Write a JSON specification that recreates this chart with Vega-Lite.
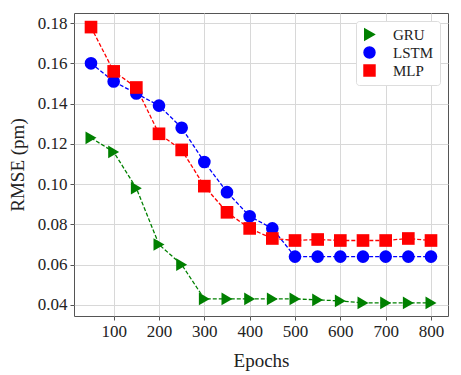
{
  "$schema": "https://vega.github.io/schema/vega-lite/v6.json",
  "width": 374,
  "height": 303,
  "autosize": {"type": "none"},
  "padding": {"left": 74, "top": 13, "right": 13, "bottom": 59},
  "background": "white",
  "config": {
    "font": "Liberation Serif",
    "view": {"stroke": "#555", "strokeWidth": 1},
    "axis": {
      "labelFont": "Liberation Serif",
      "titleFont": "Liberation Serif",
      "labelFontSize": 17,
      "titleFontSize": 19,
      "titleFontWeight": "normal",
      "labelColor": "#222",
      "titleColor": "#222",
      "gridColor": "#d8d8d8",
      "gridWidth": 1,
      "tickColor": "#555",
      "tickSize": 4,
      "domain": false
    },
    "legend": {
      "orient": "top-right",
      "offset": 8,
      "labelFont": "Liberation Serif",
      "labelFontSize": 15,
      "labelColor": "#222",
      "labelOffset": 16,
      "symbolSize": 120,
      "fillColor": "white",
      "strokeColor": "#ddd",
      "padding": 6,
      "rowPadding": 1,
      "cornerRadius": 3,
      "symbolOpacity": 1
    }
  },
  "data": {
    "values": [
      {"epoch": 50, "model": "GRU", "rmse": 0.123},
      {"epoch": 100, "model": "GRU", "rmse": 0.116},
      {"epoch": 150, "model": "GRU", "rmse": 0.098},
      {"epoch": 200, "model": "GRU", "rmse": 0.070},
      {"epoch": 250, "model": "GRU", "rmse": 0.060},
      {"epoch": 300, "model": "GRU", "rmse": 0.043},
      {"epoch": 350, "model": "GRU", "rmse": 0.043},
      {"epoch": 400, "model": "GRU", "rmse": 0.043},
      {"epoch": 450, "model": "GRU", "rmse": 0.043},
      {"epoch": 500, "model": "GRU", "rmse": 0.043},
      {"epoch": 550, "model": "GRU", "rmse": 0.0425},
      {"epoch": 600, "model": "GRU", "rmse": 0.042},
      {"epoch": 650, "model": "GRU", "rmse": 0.041},
      {"epoch": 700, "model": "GRU", "rmse": 0.041},
      {"epoch": 750, "model": "GRU", "rmse": 0.041},
      {"epoch": 800, "model": "GRU", "rmse": 0.041},
      {"epoch": 50, "model": "LSTM", "rmse": 0.160},
      {"epoch": 100, "model": "LSTM", "rmse": 0.151},
      {"epoch": 150, "model": "LSTM", "rmse": 0.145},
      {"epoch": 200, "model": "LSTM", "rmse": 0.139},
      {"epoch": 250, "model": "LSTM", "rmse": 0.128},
      {"epoch": 300, "model": "LSTM", "rmse": 0.111},
      {"epoch": 350, "model": "LSTM", "rmse": 0.096},
      {"epoch": 400, "model": "LSTM", "rmse": 0.084},
      {"epoch": 450, "model": "LSTM", "rmse": 0.078},
      {"epoch": 500, "model": "LSTM", "rmse": 0.064},
      {"epoch": 550, "model": "LSTM", "rmse": 0.064},
      {"epoch": 600, "model": "LSTM", "rmse": 0.064},
      {"epoch": 650, "model": "LSTM", "rmse": 0.064},
      {"epoch": 700, "model": "LSTM", "rmse": 0.064},
      {"epoch": 750, "model": "LSTM", "rmse": 0.064},
      {"epoch": 800, "model": "LSTM", "rmse": 0.064},
      {"epoch": 50, "model": "MLP", "rmse": 0.178},
      {"epoch": 100, "model": "MLP", "rmse": 0.156},
      {"epoch": 150, "model": "MLP", "rmse": 0.148},
      {"epoch": 200, "model": "MLP", "rmse": 0.125},
      {"epoch": 250, "model": "MLP", "rmse": 0.117},
      {"epoch": 300, "model": "MLP", "rmse": 0.099},
      {"epoch": 350, "model": "MLP", "rmse": 0.086},
      {"epoch": 400, "model": "MLP", "rmse": 0.078},
      {"epoch": 450, "model": "MLP", "rmse": 0.073},
      {"epoch": 500, "model": "MLP", "rmse": 0.072},
      {"epoch": 550, "model": "MLP", "rmse": 0.0725},
      {"epoch": 600, "model": "MLP", "rmse": 0.072},
      {"epoch": 650, "model": "MLP", "rmse": 0.072},
      {"epoch": 700, "model": "MLP", "rmse": 0.072},
      {"epoch": 750, "model": "MLP", "rmse": 0.073},
      {"epoch": 800, "model": "MLP", "rmse": 0.072}
    ]
  },
  "encoding": {
    "x": {
      "field": "epoch", "type": "quantitative",
      "scale": {"domain": [12.5, 837.5], "nice": false, "zero": false},
      "axis": {"values": [100, 200, 300, 400, 500, 600, 700, 800], "title": "Epochs", "titlePadding": 12, "labelPadding": 3}
    },
    "y": {
      "field": "rmse", "type": "quantitative",
      "scale": {"domain": [0.0345, 0.185], "nice": false, "zero": false},
      "axis": {"values": [0.04, 0.06, 0.08, 0.10, 0.12, 0.14, 0.16, 0.18], "format": ".2f", "title": "RMSE (pm)", "titlePadding": 10, "labelPadding": 3}
    },
    "color": {
      "field": "model", "type": "nominal", "title": null,
      "scale": {"domain": ["GRU", "LSTM", "MLP"], "range": ["#008000", "#0000ff", "#ff0000"]}
    }
  },
  "layer": [
    {
      "mark": {"type": "line", "strokeDash": [4, 2], "strokeWidth": 1.3}
    },
    {
      "mark": {"type": "point", "filled": true, "size": 160, "opacity": 1},
      "encoding": {
        "shape": {
          "field": "model", "type": "nominal", "title": null,
          "scale": {"domain": ["GRU", "LSTM", "MLP"], "range": ["triangle-right", "circle", "square"]}
        }
      }
    }
  ]
}
